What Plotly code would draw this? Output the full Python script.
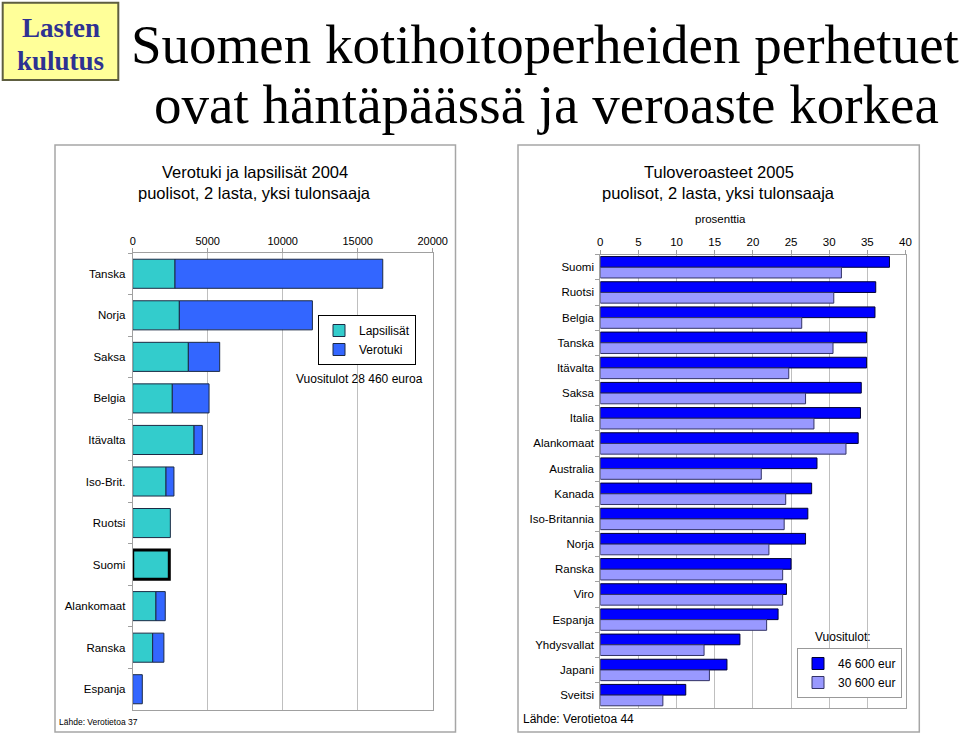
import plotly.graph_objects as go

W, H = 960, 734

def px(x):
    return x / W

def py(y):
    return 1 - y / H

# ---------------- data ----------------
left_countries = ["Tanska", "Norja", "Saksa", "Belgia", "Itävalta", "Iso-Brit.",
                  "Ruotsi", "Suomi", "Alankomaat", "Ranska", "Espanja"]
lapsilisat = [2820, 3110, 3710, 2640, 4090, 2220, 2510, 2440, 1550, 1330, 0]
verotuki = [13850, 8870, 2090, 2450, 550, 530, 0, 0, 620, 750, 640]
left_ticks = [0, 5000, 10000, 15000, 20000]

right_countries = ["Suomi", "Ruotsi", "Belgia", "Tanska", "Itävalta", "Saksa", "Italia",
                   "Alankomaat", "Australia", "Kanada", "Iso-Britannia", "Norja", "Ranska",
                   "Viro", "Espanja", "Yhdysvallat", "Japani", "Sveitsi"]
vero_46600 = [37.9, 36.1, 36.0, 34.9, 34.9, 34.2, 34.1, 33.8, 28.4, 27.7, 27.2,
              26.9, 25.0, 24.4, 23.3, 18.3, 16.6, 11.2]
vero_30600 = [31.6, 30.6, 26.4, 30.5, 24.7, 26.9, 28.0, 32.2, 21.1, 24.3, 24.1,
              22.1, 23.9, 23.9, 21.8, 13.6, 14.3, 8.2]
right_ticks = [0, 5, 10, 15, 20, 25, 30, 35, 40]

SANS = "Arial, Liberation Sans, sans-serif"
SERIF = "Times New Roman, Liberation Serif, serif"

# marker outline styles (Suomi highlighted, zero-length bars without outline)
lap_lw = [3 if c == "Suomi" else (0 if v == 0 else 1) for c, v in zip(left_countries, lapsilisat)]
lap_lc = ["#000000" if c == "Suomi" else "#1c2a44" for c in left_countries]
ver_lw = [0 if v == 0 else 1 for v in verotuki]

fig = go.Figure()

fig.add_trace(go.Bar(
    y=left_countries, x=lapsilisat, orientation="h", name="Lapsilisät",
    marker=dict(color="#33CCCC", line=dict(color=lap_lc, width=lap_lw)),
    width=0.7, xaxis="x", yaxis="y", legend="legend",
))
fig.add_trace(go.Bar(
    y=left_countries, x=verotuki, base=lapsilisat, orientation="h", name="Verotuki",
    marker=dict(color="#3366FF", line=dict(color="#1c2a44", width=ver_lw)),
    width=0.7, xaxis="x", yaxis="y", legend="legend",
))

fig.add_trace(go.Bar(
    y=right_countries, x=vero_46600, orientation="h", name="46 600 eur",
    marker=dict(color="#0000FF", line=dict(color="#000033", width=1)),
    width=0.425, offset=-0.425, xaxis="x2", yaxis="y2", legend="legend2",
))
fig.add_trace(go.Bar(
    y=right_countries, x=vero_30600, orientation="h", name="30 600 eur",
    marker=dict(color="#9999FF", line=dict(color="#333366", width=1)),
    width=0.425, offset=0.0, xaxis="x2", yaxis="y2", legend="legend2",
))

GRID = "#BFBFBF"
LINE = "#A0A0A0"

layout = dict(
    template="none",
    width=W, height=H, autosize=False,
    margin=dict(l=0, r=0, t=0, b=0, pad=0, autoexpand=False),
    paper_bgcolor="white", plot_bgcolor="white",
    barmode="overlay",
    font=dict(family=SANS, color="black"),
    xaxis=dict(domain=[px(132.7), px(432.7)], range=[0, 20000], side="top",
               tickvals=left_ticks, ticktext=[str(t) for t in left_ticks],
               showgrid=True, gridcolor=GRID, gridwidth=1,
               showline=True, linecolor=LINE, mirror=True,
               ticks="outside", ticklen=4, tickcolor=LINE, ticklabelstandoff=-1,
               tickfont=dict(size=11, family=SANS), zeroline=False,
               anchor="y", fixedrange=True, automargin=False),
    yaxis=dict(domain=[py(710), py(253)], autorange="reversed", type="category",
               showline=True, linecolor=LINE, mirror=True,
               ticks="outside", ticklen=4, tickcolor=LINE, tickson="boundaries",
               ticklabelstandoff=4,
               tickfont=dict(size=11.5, family=SANS), showgrid=False,
               anchor="x", fixedrange=True, automargin=False),
    xaxis2=dict(domain=[px(600.3), px(905.5)], range=[0, 40], side="top",
                tickvals=right_ticks, ticktext=[str(t) for t in right_ticks],
                showgrid=True, gridcolor=GRID, gridwidth=1,
                showline=True, linecolor=LINE, mirror=True,
                ticks="outside", ticklen=4, tickcolor=LINE, ticklabelstandoff=-1,
                tickfont=dict(size=11.5, family=SANS), zeroline=False,
                anchor="y2", fixedrange=True, automargin=False),
    yaxis2=dict(domain=[py(707.7), py(254.7)], autorange="reversed", type="category",
                showline=True, linecolor=LINE, mirror=True,
                ticks="outside", ticklen=4, tickcolor=LINE, tickson="boundaries",
                ticklabelstandoff=3,
                tickfont=dict(size=11.5, family=SANS), showgrid=False,
                anchor="x2", fixedrange=True, automargin=False),
    legend=dict(x=px(318), y=py(315), xanchor="left", yanchor="top",
                bgcolor="white", bordercolor="black", borderwidth=1,
                font=dict(size=12, family=SANS), traceorder="normal",
                itemwidth=30, tracegroupgap=0),
    legend2=dict(x=px(797), y=py(648), xanchor="left", yanchor="top",
                 bgcolor="white", bordercolor="#999999", borderwidth=1,
                 font=dict(size=12, family=SANS), traceorder="normal",
                 itemwidth=30, tracegroupgap=0),
    showlegend=True,
)
fig.update_layout(**layout)

shapes = [
    # panel frames
    dict(type="rect", xref="paper", yref="paper", x0=px(55), x1=px(455.5), y0=py(732), y1=py(145),
         line=dict(color="#A6A6A6", width=1.5), fillcolor="rgba(0,0,0,0)", layer="below"),
    dict(type="rect", xref="paper", yref="paper", x0=px(518), x1=px(919.3), y0=py(732), y1=py(145),
         line=dict(color="#A6A6A6", width=1.5), fillcolor="rgba(0,0,0,0)", layer="below"),
    # "Lasten kulutus" label box
    dict(type="rect", xref="paper", yref="paper", x0=px(2.7), x1=px(118.3), y0=py(80), y1=py(2.7),
         line=dict(color="#5E5E40", width=2), fillcolor="#FFFF99", layer="below"),
]
fig.update_layout(shapes=shapes)

def ann(text, x, y, size, family=SANS, xanchor="center", color="black", bold=False):
    t = f"<b>{text}</b>" if bold else text
    return dict(text=t, x=px(x), y=py(y), xref="paper", yref="paper",
                xanchor=xanchor, yanchor="middle", showarrow=False,
                font=dict(size=size, family=family, color=color))

annotations = [
    ann("Lasten", 60.5, 28, 27, SERIF, color="#2E3192", bold=True),
    ann("kulutus", 60.5, 61, 27, SERIF, color="#2E3192", bold=True),
    ann("Suomen kotihoitoperheiden perhetuet", 545, 44, 55, SERIF),
    ann("ovat häntäpäässä ja veroaste korkea", 546, 105, 55, SERIF),
    ann("Verotuki ja lapsilisät 2004", 254.7, 172, 16.5),
    ann("puolisot, 2 lasta, yksi tulonsaaja", 254.7, 193, 16.5),
    ann("Tuloveroasteet 2005", 718.8, 172, 16.5),
    ann("puolisot, 2 lasta, yksi tulonsaaja", 718.8, 193, 16.5),
    ann("prosenttia", 720, 219, 11.5),
    ann("Vuositulot 28 460 euroa", 359, 379, 12),
    ann("Lähde: Verotietoa 37", 57, 722, 8.5, xanchor="left"),
    ann("Lähde: Verotietoa 44", 521, 719, 12, xanchor="left"),
    ann("Vuositulot:", 843, 637, 12),
]
fig.update_layout(annotations=annotations)

post = ("document.body.style.margin='0';document.body.style.overflow='hidden';"
        "var gd=document.getElementById('{plot_id}');"
        "Plotly.relayout(gd,{width:960,height:734});")
fig.write_html("out.html", config={"displayModeBar": False, "responsive": False},
               post_script=post)
